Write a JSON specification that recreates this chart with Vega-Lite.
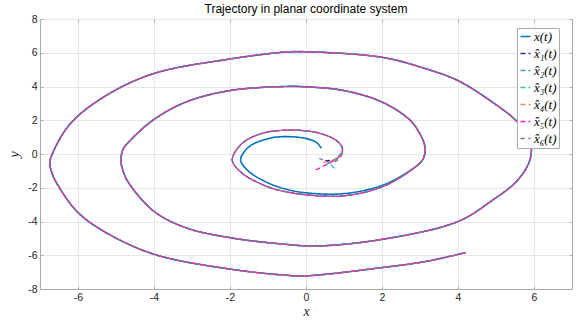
{
  "$schema": "https://vega.github.io/schema/vega-lite/v6.json",
  "autosize": {"type": "none"},
  "padding": {"left": 40, "top": 19, "right": 5, "bottom": 33},
  "width": 532,
  "height": 270,
  "title": {"text": "Trajectory in planar coordinate system", "fontSize": 12, "font": "Liberation Sans", "fontWeight": "normal", "color": "#000000", "offset": -2, "frame": "group"},
  "data": {"values": [
    {"s": ["x(t)"], "i": 0, "x": 0.40, "y": 0.35},
    {"s": ["x(t)"], "i": 1, "x": 0.28, "y": 0.68},
    {"s": ["x(t)"], "i": 2, "x": 0.0, "y": 0.92},
    {"s": ["x(t)"], "i": 3, "x": -0.55, "y": 1.03},
    {"s": ["x(t)"], "i": 4, "x": -0.98, "y": 0.92},
    {"s": ["x(t)"], "i": 5, "x": -1.5, "y": 0.43},
    {"s": ["x(t)"], "i": 6, "x": -1.72, "y": -0.35},
    {"s": ["x(t)"], "i": 7, "x": -1.5, "y": -1.04},
    {"s": ["x(t)"], "i": 8, "x": -0.98, "y": -1.73},
    {"s": ["x(t)"], "i": 9, "x": -0.5, "y": -2.1},
    {"s": ["x(t)"], "i": 10, "x": 0.0, "y": -2.3},
    {"s": ["x(t)"], "i": 11, "x": 1.0, "y": -2.35},
    {"s": ["x(t)"], "i": 12, "x": 2.0, "y": -1.86},
    {"s": ["x(t)"], "i": 13, "x": 2.74, "y": -0.98},
    {"s": ["x(t)"], "i": 14, "x": 3.08, "y": -0.3},
    {"s": ["x(t)"], "i": 15, "x": 3.13, "y": 0.4},
    {"s": ["x(t)"], "i": 16, "x": 3.02, "y": 1.1},
    {"s": ["x(t)"], "i": 17, "x": 2.74, "y": 2.0},
    {"s": ["x(t)"], "i": 18, "x": 2.0, "y": 3.08},
    {"s": ["x(t)"], "i": 19, "x": 1.0, "y": 3.76},
    {"s": ["x(t)"], "i": 20, "x": 0.0, "y": 3.98},
    {"s": ["x(t)"], "i": 21, "x": -0.55, "y": 4.0},
    {"s": ["x(t)"], "i": 22, "x": -2.0, "y": 3.76},
    {"s": ["x(t)"], "i": 23, "x": -3.16, "y": 3.08},
    {"s": ["x(t)"], "i": 24, "x": -4.03, "y": 2.0},
    {"s": ["x(t)"], "i": 25, "x": -4.62, "y": 0.82},
    {"s": ["x(t)"], "i": 26, "x": -4.81, "y": 0.3},
    {"s": ["x(t)"], "i": 27, "x": -4.87, "y": -0.4},
    {"s": ["x(t)"], "i": 28, "x": -4.8, "y": -1.1},
    {"s": ["x(t)"], "i": 29, "x": -4.66, "y": -1.73},
    {"s": ["x(t)"], "i": 30, "x": -4.0, "y": -3.4},
    {"s": ["x(t)"], "i": 31, "x": -3.16, "y": -4.37},
    {"s": ["x(t)"], "i": 32, "x": -2.0, "y": -4.96},
    {"s": ["x(t)"], "i": 33, "x": -0.55, "y": -5.35},
    {"s": ["x(t)"], "i": 34, "x": 0.3, "y": -5.45},
    {"s": ["x(t)"], "i": 35, "x": 2.0, "y": -5.06},
    {"s": ["x(t)"], "i": 36, "x": 4.0, "y": -4.0},
    {"s": ["x(t)"], "i": 37, "x": 4.9, "y": -2.75},
    {"s": ["x(t)"], "i": 38, "x": 5.52, "y": -1.67},
    {"s": ["x(t)"], "i": 39, "x": 5.85, "y": -0.6},
    {"s": ["x(t)"], "i": 40, "x": 5.93, "y": 0.3},
    {"s": ["x(t)"], "i": 41, "x": 5.8, "y": 1.2},
    {"s": ["x(t)"], "i": 42, "x": 5.52, "y": 2.0},
    {"s": ["x(t)"], "i": 43, "x": 4.9, "y": 3.08},
    {"s": ["x(t)"], "i": 44, "x": 4.0, "y": 4.35},
    {"s": ["x(t)"], "i": 45, "x": 3.17, "y": 5.04},
    {"s": ["x(t)"], "i": 46, "x": 2.0, "y": 5.73},
    {"s": ["x(t)"], "i": 47, "x": 0.0, "y": 6.06},
    {"s": ["x(t)"], "i": 48, "x": -0.55, "y": 6.04},
    {"s": ["x(t)"], "i": 49, "x": -2.0, "y": 5.63},
    {"s": ["x(t)"], "i": 50, "x": -4.03, "y": 4.75},
    {"s": ["x(t)"], "i": 51, "x": -5.33, "y": 3.37},
    {"s": ["x(t)"], "i": 52, "x": -6.2, "y": 1.8},
    {"s": ["x(t)"], "i": 53, "x": -6.63, "y": 0.24},
    {"s": ["x(t)"], "i": 54, "x": -6.74, "y": -0.5},
    {"s": ["x(t)"], "i": 55, "x": -6.69, "y": -1.1},
    {"s": ["x(t)"], "i": 56, "x": -6.56, "y": -1.73},
    {"s": ["x(t)"], "i": 57, "x": -6.03, "y": -3.4},
    {"s": ["x(t)"], "i": 58, "x": -5.33, "y": -4.57},
    {"s": ["x(t)"], "i": 59, "x": -4.0, "y": -5.94},
    {"s": ["x(t)"], "i": 60, "x": -2.0, "y": -6.82},
    {"s": ["x(t)"], "i": 61, "x": -0.55, "y": -7.18},
    {"s": ["x(t)"], "i": 62, "x": 0.0, "y": -7.22},
    {"s": ["x(t)"], "i": 63, "x": 2.0, "y": -6.73},
    {"s": ["x(t)"], "i": 64, "x": 3.2, "y": -6.35},
    {"s": ["x(t)"], "i": 65, "x": 4.2, "y": -5.84},

    {"s": ["x\u0302\u2081(t)"], "i": 0, "x": 0.5, "y": -0.4},
    {"s": ["x\u0302\u2081(t)"], "i": 1, "x": 0.7, "y": -0.35},
    {"s": ["x\u0302\u2081(t)"], "i": 2, "x": 0.9, "y": -0.12},
    {"s": ["x\u0302\u2082(t)"], "i": 0, "x": 0.75, "y": -0.85},
    {"s": ["x\u0302\u2082(t)"], "i": 1, "x": 0.65, "y": -0.55},
    {"s": ["x\u0302\u2082(t)"], "i": 2, "x": 0.85, "y": -0.15},
    {"s": ["x\u0302\u2083(t)"], "i": 0, "x": 0.55, "y": -0.6},
    {"s": ["x\u0302\u2083(t)"], "i": 1, "x": 0.75, "y": -0.4},
    {"s": ["x\u0302\u2083(t)"], "i": 2, "x": 0.9, "y": -0.12},
    {"s": ["x\u0302\u2084(t)"], "i": 0, "x": 0.45, "y": -0.5},
    {"s": ["x\u0302\u2084(t)"], "i": 1, "x": 0.75, "y": -0.35},
    {"s": ["x\u0302\u2084(t)"], "i": 2, "x": 0.92, "y": -0.1},
    {"s": ["x\u0302\u2085(t)"], "i": 0, "x": 0.25, "y": -0.95},
    {"s": ["x\u0302\u2085(t)"], "i": 1, "x": 0.6, "y": -0.55},
    {"s": ["x\u0302\u2085(t)"], "i": 2, "x": 0.87, "y": -0.16},
    {"s": ["x\u0302\u2086(t)"], "i": 0, "x": 0.35, "y": -0.25},
    {"s": ["x\u0302\u2086(t)"], "i": 1, "x": 0.7, "y": -0.5},
    {"s": ["x\u0302\u2086(t)"], "i": 2, "x": 0.92, "y": -0.15},

    {"s": ["x\u0302\u2081(t)","x\u0302\u2082(t)","x\u0302\u2083(t)","x\u0302\u2084(t)","x\u0302\u2085(t)","x\u0302\u2086(t)"], "i": 10, "x": 0.96, "y": 0.33},
    {"s": ["x\u0302\u2081(t)","x\u0302\u2082(t)","x\u0302\u2083(t)","x\u0302\u2084(t)","x\u0302\u2085(t)","x\u0302\u2086(t)"], "i": 11, "x": 0.8, "y": 0.8},
    {"s": ["x\u0302\u2081(t)","x\u0302\u2082(t)","x\u0302\u2083(t)","x\u0302\u2084(t)","x\u0302\u2085(t)","x\u0302\u2086(t)"], "i": 12, "x": 0.4, "y": 1.2},
    {"s": ["x\u0302\u2081(t)","x\u0302\u2082(t)","x\u0302\u2083(t)","x\u0302\u2084(t)","x\u0302\u2085(t)","x\u0302\u2086(t)"], "i": 13, "x": 0.0, "y": 1.37},
    {"s": ["x\u0302\u2081(t)","x\u0302\u2082(t)","x\u0302\u2083(t)","x\u0302\u2084(t)","x\u0302\u2085(t)","x\u0302\u2086(t)"], "i": 14, "x": -0.55, "y": 1.41},
    {"s": ["x\u0302\u2081(t)","x\u0302\u2082(t)","x\u0302\u2083(t)","x\u0302\u2084(t)","x\u0302\u2085(t)","x\u0302\u2086(t)"], "i": 15, "x": -1.16, "y": 1.22},
    {"s": ["x\u0302\u2081(t)","x\u0302\u2082(t)","x\u0302\u2083(t)","x\u0302\u2084(t)","x\u0302\u2085(t)","x\u0302\u2086(t)"], "i": 16, "x": -1.68, "y": 0.63},
    {"s": ["x\u0302\u2081(t)","x\u0302\u2082(t)","x\u0302\u2083(t)","x\u0302\u2084(t)","x\u0302\u2085(t)","x\u0302\u2086(t)"], "i": 17, "x": -1.94, "y": -0.35},
    {"s": ["x\u0302\u2081(t)","x\u0302\u2082(t)","x\u0302\u2083(t)","x\u0302\u2084(t)","x\u0302\u2085(t)","x\u0302\u2086(t)"], "i": 18, "x": -1.68, "y": -1.14},
    {"s": ["x\u0302\u2081(t)","x\u0302\u2082(t)","x\u0302\u2083(t)","x\u0302\u2084(t)","x\u0302\u2085(t)","x\u0302\u2086(t)"], "i": 19, "x": -1.0, "y": -1.95},
    {"s": ["x\u0302\u2081(t)","x\u0302\u2082(t)","x\u0302\u2083(t)","x\u0302\u2084(t)","x\u0302\u2085(t)","x\u0302\u2086(t)"], "i": 20, "x": -0.5, "y": -2.25},
    {"s": ["x\u0302\u2081(t)","x\u0302\u2082(t)","x\u0302\u2083(t)","x\u0302\u2084(t)","x\u0302\u2085(t)","x\u0302\u2086(t)"], "i": 21, "x": 0.0, "y": -2.42},
    {"s": ["x\u0302\u2081(t)","x\u0302\u2082(t)","x\u0302\u2083(t)","x\u0302\u2084(t)","x\u0302\u2085(t)","x\u0302\u2086(t)"], "i": 22, "x": 1.0, "y": -2.48},
    {"s": ["x\u0302\u2081(t)","x\u0302\u2082(t)","x\u0302\u2083(t)","x\u0302\u2084(t)","x\u0302\u2085(t)","x\u0302\u2086(t)"], "i": 23, "x": 2.0, "y": -1.95},
    {"s": ["x\u0302\u2081(t)","x\u0302\u2082(t)","x\u0302\u2083(t)","x\u0302\u2084(t)","x\u0302\u2085(t)","x\u0302\u2086(t)"], "i": 24, "x": 2.74, "y": -1.0},
    {"s": ["x\u0302\u2081(t)","x\u0302\u2082(t)","x\u0302\u2083(t)","x\u0302\u2084(t)","x\u0302\u2085(t)","x\u0302\u2086(t)"], "i": 25, "x": 3.08, "y": -0.3},
    {"s": ["x\u0302\u2081(t)","x\u0302\u2082(t)","x\u0302\u2083(t)","x\u0302\u2084(t)","x\u0302\u2085(t)","x\u0302\u2086(t)"], "i": 26, "x": 3.13, "y": 0.4},
    {"s": ["x\u0302\u2081(t)","x\u0302\u2082(t)","x\u0302\u2083(t)","x\u0302\u2084(t)","x\u0302\u2085(t)","x\u0302\u2086(t)"], "i": 27, "x": 3.02, "y": 1.1},
    {"s": ["x\u0302\u2081(t)","x\u0302\u2082(t)","x\u0302\u2083(t)","x\u0302\u2084(t)","x\u0302\u2085(t)","x\u0302\u2086(t)"], "i": 28, "x": 2.74, "y": 2.0},
    {"s": ["x\u0302\u2081(t)","x\u0302\u2082(t)","x\u0302\u2083(t)","x\u0302\u2084(t)","x\u0302\u2085(t)","x\u0302\u2086(t)"], "i": 29, "x": 2.0, "y": 3.08},
    {"s": ["x\u0302\u2081(t)","x\u0302\u2082(t)","x\u0302\u2083(t)","x\u0302\u2084(t)","x\u0302\u2085(t)","x\u0302\u2086(t)"], "i": 30, "x": 1.0, "y": 3.76},
    {"s": ["x\u0302\u2081(t)","x\u0302\u2082(t)","x\u0302\u2083(t)","x\u0302\u2084(t)","x\u0302\u2085(t)","x\u0302\u2086(t)"], "i": 31, "x": 0.0, "y": 3.98},
    {"s": ["x\u0302\u2081(t)","x\u0302\u2082(t)","x\u0302\u2083(t)","x\u0302\u2084(t)","x\u0302\u2085(t)","x\u0302\u2086(t)"], "i": 32, "x": -0.55, "y": 4.0},
    {"s": ["x\u0302\u2081(t)","x\u0302\u2082(t)","x\u0302\u2083(t)","x\u0302\u2084(t)","x\u0302\u2085(t)","x\u0302\u2086(t)"], "i": 33, "x": -2.0, "y": 3.76},
    {"s": ["x\u0302\u2081(t)","x\u0302\u2082(t)","x\u0302\u2083(t)","x\u0302\u2084(t)","x\u0302\u2085(t)","x\u0302\u2086(t)"], "i": 34, "x": -3.16, "y": 3.08},
    {"s": ["x\u0302\u2081(t)","x\u0302\u2082(t)","x\u0302\u2083(t)","x\u0302\u2084(t)","x\u0302\u2085(t)","x\u0302\u2086(t)"], "i": 35, "x": -4.03, "y": 2.0},
    {"s": ["x\u0302\u2081(t)","x\u0302\u2082(t)","x\u0302\u2083(t)","x\u0302\u2084(t)","x\u0302\u2085(t)","x\u0302\u2086(t)"], "i": 36, "x": -4.62, "y": 0.82},
    {"s": ["x\u0302\u2081(t)","x\u0302\u2082(t)","x\u0302\u2083(t)","x\u0302\u2084(t)","x\u0302\u2085(t)","x\u0302\u2086(t)"], "i": 37, "x": -4.81, "y": 0.3},
    {"s": ["x\u0302\u2081(t)","x\u0302\u2082(t)","x\u0302\u2083(t)","x\u0302\u2084(t)","x\u0302\u2085(t)","x\u0302\u2086(t)"], "i": 38, "x": -4.87, "y": -0.4},
    {"s": ["x\u0302\u2081(t)","x\u0302\u2082(t)","x\u0302\u2083(t)","x\u0302\u2084(t)","x\u0302\u2085(t)","x\u0302\u2086(t)"], "i": 39, "x": -4.8, "y": -1.1},
    {"s": ["x\u0302\u2081(t)","x\u0302\u2082(t)","x\u0302\u2083(t)","x\u0302\u2084(t)","x\u0302\u2085(t)","x\u0302\u2086(t)"], "i": 40, "x": -4.66, "y": -1.73},
    {"s": ["x\u0302\u2081(t)","x\u0302\u2082(t)","x\u0302\u2083(t)","x\u0302\u2084(t)","x\u0302\u2085(t)","x\u0302\u2086(t)"], "i": 41, "x": -4.0, "y": -3.4},
    {"s": ["x\u0302\u2081(t)","x\u0302\u2082(t)","x\u0302\u2083(t)","x\u0302\u2084(t)","x\u0302\u2085(t)","x\u0302\u2086(t)"], "i": 42, "x": -3.16, "y": -4.37},
    {"s": ["x\u0302\u2081(t)","x\u0302\u2082(t)","x\u0302\u2083(t)","x\u0302\u2084(t)","x\u0302\u2085(t)","x\u0302\u2086(t)"], "i": 43, "x": -2.0, "y": -4.96},
    {"s": ["x\u0302\u2081(t)","x\u0302\u2082(t)","x\u0302\u2083(t)","x\u0302\u2084(t)","x\u0302\u2085(t)","x\u0302\u2086(t)"], "i": 44, "x": -0.55, "y": -5.35},
    {"s": ["x\u0302\u2081(t)","x\u0302\u2082(t)","x\u0302\u2083(t)","x\u0302\u2084(t)","x\u0302\u2085(t)","x\u0302\u2086(t)"], "i": 45, "x": 0.3, "y": -5.45},
    {"s": ["x\u0302\u2081(t)","x\u0302\u2082(t)","x\u0302\u2083(t)","x\u0302\u2084(t)","x\u0302\u2085(t)","x\u0302\u2086(t)"], "i": 46, "x": 2.0, "y": -5.06},
    {"s": ["x\u0302\u2081(t)","x\u0302\u2082(t)","x\u0302\u2083(t)","x\u0302\u2084(t)","x\u0302\u2085(t)","x\u0302\u2086(t)"], "i": 47, "x": 4.0, "y": -4.0},
    {"s": ["x\u0302\u2081(t)","x\u0302\u2082(t)","x\u0302\u2083(t)","x\u0302\u2084(t)","x\u0302\u2085(t)","x\u0302\u2086(t)"], "i": 48, "x": 4.9, "y": -2.75},
    {"s": ["x\u0302\u2081(t)","x\u0302\u2082(t)","x\u0302\u2083(t)","x\u0302\u2084(t)","x\u0302\u2085(t)","x\u0302\u2086(t)"], "i": 49, "x": 5.52, "y": -1.67},
    {"s": ["x\u0302\u2081(t)","x\u0302\u2082(t)","x\u0302\u2083(t)","x\u0302\u2084(t)","x\u0302\u2085(t)","x\u0302\u2086(t)"], "i": 50, "x": 5.85, "y": -0.6},
    {"s": ["x\u0302\u2081(t)","x\u0302\u2082(t)","x\u0302\u2083(t)","x\u0302\u2084(t)","x\u0302\u2085(t)","x\u0302\u2086(t)"], "i": 51, "x": 5.93, "y": 0.3},
    {"s": ["x\u0302\u2081(t)","x\u0302\u2082(t)","x\u0302\u2083(t)","x\u0302\u2084(t)","x\u0302\u2085(t)","x\u0302\u2086(t)"], "i": 52, "x": 5.8, "y": 1.2},
    {"s": ["x\u0302\u2081(t)","x\u0302\u2082(t)","x\u0302\u2083(t)","x\u0302\u2084(t)","x\u0302\u2085(t)","x\u0302\u2086(t)"], "i": 53, "x": 5.52, "y": 2.0},
    {"s": ["x\u0302\u2081(t)","x\u0302\u2082(t)","x\u0302\u2083(t)","x\u0302\u2084(t)","x\u0302\u2085(t)","x\u0302\u2086(t)"], "i": 54, "x": 4.9, "y": 3.08},
    {"s": ["x\u0302\u2081(t)","x\u0302\u2082(t)","x\u0302\u2083(t)","x\u0302\u2084(t)","x\u0302\u2085(t)","x\u0302\u2086(t)"], "i": 55, "x": 4.0, "y": 4.35},
    {"s": ["x\u0302\u2081(t)","x\u0302\u2082(t)","x\u0302\u2083(t)","x\u0302\u2084(t)","x\u0302\u2085(t)","x\u0302\u2086(t)"], "i": 56, "x": 3.17, "y": 5.04},
    {"s": ["x\u0302\u2081(t)","x\u0302\u2082(t)","x\u0302\u2083(t)","x\u0302\u2084(t)","x\u0302\u2085(t)","x\u0302\u2086(t)"], "i": 57, "x": 2.0, "y": 5.73},
    {"s": ["x\u0302\u2081(t)","x\u0302\u2082(t)","x\u0302\u2083(t)","x\u0302\u2084(t)","x\u0302\u2085(t)","x\u0302\u2086(t)"], "i": 58, "x": 0.0, "y": 6.06},
    {"s": ["x\u0302\u2081(t)","x\u0302\u2082(t)","x\u0302\u2083(t)","x\u0302\u2084(t)","x\u0302\u2085(t)","x\u0302\u2086(t)"], "i": 59, "x": -0.55, "y": 6.04},
    {"s": ["x\u0302\u2081(t)","x\u0302\u2082(t)","x\u0302\u2083(t)","x\u0302\u2084(t)","x\u0302\u2085(t)","x\u0302\u2086(t)"], "i": 60, "x": -2.0, "y": 5.63},
    {"s": ["x\u0302\u2081(t)","x\u0302\u2082(t)","x\u0302\u2083(t)","x\u0302\u2084(t)","x\u0302\u2085(t)","x\u0302\u2086(t)"], "i": 61, "x": -4.03, "y": 4.75},
    {"s": ["x\u0302\u2081(t)","x\u0302\u2082(t)","x\u0302\u2083(t)","x\u0302\u2084(t)","x\u0302\u2085(t)","x\u0302\u2086(t)"], "i": 62, "x": -5.33, "y": 3.37},
    {"s": ["x\u0302\u2081(t)","x\u0302\u2082(t)","x\u0302\u2083(t)","x\u0302\u2084(t)","x\u0302\u2085(t)","x\u0302\u2086(t)"], "i": 63, "x": -6.2, "y": 1.8},
    {"s": ["x\u0302\u2081(t)","x\u0302\u2082(t)","x\u0302\u2083(t)","x\u0302\u2084(t)","x\u0302\u2085(t)","x\u0302\u2086(t)"], "i": 64, "x": -6.63, "y": 0.24},
    {"s": ["x\u0302\u2081(t)","x\u0302\u2082(t)","x\u0302\u2083(t)","x\u0302\u2084(t)","x\u0302\u2085(t)","x\u0302\u2086(t)"], "i": 65, "x": -6.74, "y": -0.5},
    {"s": ["x\u0302\u2081(t)","x\u0302\u2082(t)","x\u0302\u2083(t)","x\u0302\u2084(t)","x\u0302\u2085(t)","x\u0302\u2086(t)"], "i": 66, "x": -6.69, "y": -1.1},
    {"s": ["x\u0302\u2081(t)","x\u0302\u2082(t)","x\u0302\u2083(t)","x\u0302\u2084(t)","x\u0302\u2085(t)","x\u0302\u2086(t)"], "i": 67, "x": -6.56, "y": -1.73},
    {"s": ["x\u0302\u2081(t)","x\u0302\u2082(t)","x\u0302\u2083(t)","x\u0302\u2084(t)","x\u0302\u2085(t)","x\u0302\u2086(t)"], "i": 68, "x": -6.03, "y": -3.4},
    {"s": ["x\u0302\u2081(t)","x\u0302\u2082(t)","x\u0302\u2083(t)","x\u0302\u2084(t)","x\u0302\u2085(t)","x\u0302\u2086(t)"], "i": 69, "x": -5.33, "y": -4.57},
    {"s": ["x\u0302\u2081(t)","x\u0302\u2082(t)","x\u0302\u2083(t)","x\u0302\u2084(t)","x\u0302\u2085(t)","x\u0302\u2086(t)"], "i": 70, "x": -4.0, "y": -5.94},
    {"s": ["x\u0302\u2081(t)","x\u0302\u2082(t)","x\u0302\u2083(t)","x\u0302\u2084(t)","x\u0302\u2085(t)","x\u0302\u2086(t)"], "i": 71, "x": -2.0, "y": -6.82},
    {"s": ["x\u0302\u2081(t)","x\u0302\u2082(t)","x\u0302\u2083(t)","x\u0302\u2084(t)","x\u0302\u2085(t)","x\u0302\u2086(t)"], "i": 72, "x": -0.55, "y": -7.18},
    {"s": ["x\u0302\u2081(t)","x\u0302\u2082(t)","x\u0302\u2083(t)","x\u0302\u2084(t)","x\u0302\u2085(t)","x\u0302\u2086(t)"], "i": 73, "x": 0.0, "y": -7.22},
    {"s": ["x\u0302\u2081(t)","x\u0302\u2082(t)","x\u0302\u2083(t)","x\u0302\u2084(t)","x\u0302\u2085(t)","x\u0302\u2086(t)"], "i": 74, "x": 2.0, "y": -6.73},
    {"s": ["x\u0302\u2081(t)","x\u0302\u2082(t)","x\u0302\u2083(t)","x\u0302\u2084(t)","x\u0302\u2085(t)","x\u0302\u2086(t)"], "i": 75, "x": 3.2, "y": -6.35},
    {"s": ["x\u0302\u2081(t)","x\u0302\u2082(t)","x\u0302\u2083(t)","x\u0302\u2084(t)","x\u0302\u2085(t)","x\u0302\u2086(t)"], "i": 76, "x": 4.2, "y": -5.84}
  ]},
  "transform": [{"flatten": ["s"]}],
  "layer": [
    {
      "mark": {"type": "line", "interpolate": "catmull-rom", "clip": true},
      "encoding": {
        "x": {"field": "x", "type": "quantitative", "scale": {"domain": [-7, 7], "nice": false, "zero": false},
          "axis": {"values": [-6, -4, -2, 0, 2, 4, 6], "labelExpr": "'' + datum.value", "title": "x"}},
        "y": {"field": "y", "type": "quantitative", "scale": {"domain": [-8, 8], "nice": false, "zero": false},
          "axis": {"values": [-8, -6, -4, -2, 0, 2, 4, 6, 8], "labelExpr": "'' + datum.value", "title": "y"}},
        "order": {"field": "i", "type": "quantitative"},
        "color": {"field": "s", "type": "nominal",
          "scale": {"domain": ["x(t)", "x\u0302\u2081(t)", "x\u0302\u2082(t)", "x\u0302\u2083(t)", "x\u0302\u2084(t)", "x\u0302\u2085(t)", "x\u0302\u2086(t)"],
            "range": ["#0072BD", "#2D2A85", "#3C9BDB", "#2EC4A0", "#E8866B", "#FF1FB0", "#8A5B9C"]},
          "legend": {"orient": "none", "legendX": 477, "legendY": 9, "title": null}},
        "strokeDash": {"field": "s", "type": "nominal",
          "scale": {"domain": ["x(t)", "x\u0302\u2081(t)", "x\u0302\u2082(t)", "x\u0302\u2083(t)", "x\u0302\u2084(t)", "x\u0302\u2085(t)", "x\u0302\u2086(t)"],
            "range": [[1, 0], [5, 3], [5, 3], [5, 3], [5, 3], [5, 3], [4, 4]]},
          "legend": {"orient": "none", "legendX": 477, "legendY": 9, "title": null}},
        "strokeWidth": {"condition": {"test": "datum.s === 'x(t)'", "value": 1.6}, "value": 1.2}
      }
    },
    {
      "mark": {"type": "line", "opacity": 0},
      "encoding": {
        "x": {"field": "x", "type": "quantitative", "scale": {"domain": [-7, 7], "nice": false, "zero": false},
          "axis": {"orient": "top", "values": [-6, -4, -2, 0, 2, 4, 6], "labels": false, "title": null, "grid": false, "domain": false}},
        "y": {"field": "y", "type": "quantitative", "scale": {"domain": [-8, 8], "nice": false, "zero": false},
          "axis": {"orient": "right", "values": [-8, -6, -4, -2, 0, 2, 4, 6, 8], "labels": false, "title": null, "grid": false, "domain": false}},
        "detail": {"field": "s", "type": "nominal"},
        "order": {"field": "i", "type": "quantitative"}
      }
    }
  ],
  "resolve": {"axis": {"x": "independent", "y": "independent"}},
  "config": {
    "view": {"stroke": "#AAAAAA", "strokeWidth": 1},
    "axis": {
      "domainColor": "#AAAAAA", "tickColor": "#AAAAAA", "tickSize": -3,
      "gridColor": "#E6E6E6", "gridWidth": 1,
      "labelFont": "Liberation Sans", "labelFontSize": 10.5, "labelColor": "#262626", "labelPadding": 6,
      "titleFont": "Liberation Serif", "titleFontStyle": "italic", "titleFontWeight": "normal", "titleFontSize": 14, "titleColor": "#262626"
    },
    "axisX": {"titlePadding": 2},
    "axisY": {"titlePadding": 6, "titleAngle": -90},
    "legend": {
      "fillColor": "#FFFFFF", "strokeColor": "#AAAAAA", "padding": 2, "rowPadding": 3,
      "labelFont": "Liberation Serif", "labelFontStyle": "italic", "labelFontSize": 13, "labelColor": "#000000",
      "symbolType": "stroke", "symbolSize": 100, "symbolStrokeWidth": 1.5, "labelOffset": 2, "labelLimit": 200
    }
  }
}
